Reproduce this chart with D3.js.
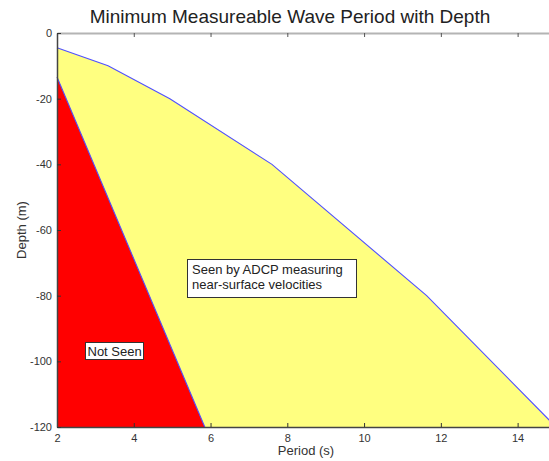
<!DOCTYPE html>
<html>
<head>
<meta charset="utf-8">
<script src="https://cdn.jsdelivr.net/npm/d3@7"></script>
<style>
  html, body { margin: 0; padding: 0; background: #fff; }
  svg { display: block; font-family: "Liberation Sans", Arial, sans-serif; }
</style>
</head>
<body>
<svg id="chart" width="549" height="461"></svg>
<script>
// Upper limit of the measurable region: minimum wave period (s) at each depth (m)
const limitPeriod = [2, 3.33, 4.94, 7.6, 11.63, 15];
const limitDepth  = [-4.5, -10, -20, -40, -80, -120];

// Edge of the region the ADCP cannot see
const unseenPeriod = [2, 5.85];
const unseenDepth  = [-13.4, -120];

const xTicks = [2, 4, 6, 8, 10, 12, 14];
const yTicks = [0, -20, -40, -60, -80, -100, -120];

const title = "Minimum Measureable Wave Period with Depth";
const xLabel = "Period (s)";
const yLabel = "Depth (m)";
const seenLabel = ["Seen by ADCP measuring", "near-surface velocities"];
const unseenLabel = "Not Seen";

const svg = d3.select("#chart");
const plotLeft = 57, plotRight = 556, plotTop = 33, plotBottom = 427;

const x = d3.scaleLinear().domain([2, 15]).range([plotLeft, plotRight]);
const y = d3.scaleLinear().domain([-120, 0]).range([plotBottom, plotTop]);

const plot = svg.append("g");
const line = d3.line().x(d => x(d[0])).y(d => y(d[1]));

// Yellow: area between the period limit curve and the bottom of the plot
const limitPts = limitPeriod.map((p, i) => [p, limitDepth[i]]);
const seenPoly = [...limitPts, [15, -120], [2, -120]];
plot.append("path").attr("d", line(seenPoly) + "Z").attr("fill", "#ffff80");

// Red: the unseen wedge
const unseenPts = unseenPeriod.map((p, i) => [p, unseenDepth[i]]);
const unseenPoly = [...unseenPts, [2, -120]];
plot.append("path").attr("d", line(unseenPoly) + "Z").attr("fill", "#ff0000");

// Blue boundary lines
plot.append("path").attr("d", line(limitPts))
  .attr("fill", "none").attr("stroke", "#5050ff").attr("stroke-width", 1.1);
plot.append("path").attr("d", line(unseenPts))
  .attr("fill", "none").attr("stroke", "#5050ff").attr("stroke-width", 1.1);

// Axes (ticks drawn inward), labels with a plain hyphen for negatives
const tickLen = 4;
const plain = d => String(d);
const xBottom = svg.append("g").attr("transform", `translate(0,${plotBottom})`)
  .call(d3.axisBottom(x).tickValues(xTicks).tickFormat(plain).tickSizeInner(-tickLen).tickSizeOuter(0).tickPadding(7));
const xTop = svg.append("g").attr("transform", `translate(0,${plotTop})`)
  .call(d3.axisTop(x).tickValues(xTicks).tickSizeInner(-tickLen).tickSizeOuter(0).tickFormat(""));
const yLeft = svg.append("g").attr("transform", `translate(${plotLeft},0)`)
  .call(d3.axisLeft(y).tickValues(yTicks).tickFormat(plain).tickSizeInner(-tickLen).tickSizeOuter(0).tickPadding(5));

[xBottom, xTop, yLeft].forEach(g => {
  g.selectAll("text").attr("font-size", 11).attr("fill", "#333").attr("font-family", "Liberation Sans, Arial, sans-serif");
  g.selectAll(".tick line").attr("stroke", "#333");
});
xBottom.select(".domain").attr("stroke", "#444").attr("stroke-width", 1.5);
xTop.select(".domain").attr("stroke", "#b4b4b4").attr("stroke-width", 2);
xTop.selectAll(".tick line").attr("stroke", "#555");
yLeft.select(".domain").attr("stroke", "#444").attr("stroke-width", 1.5);

// Titles
svg.append("text").attr("x", 290).attr("y", 23).attr("text-anchor", "middle")
  .attr("font-size", 19).attr("fill", "#222").text(title);
svg.append("text").attr("x", 306).attr("y", 455).attr("text-anchor", "middle")
  .attr("font-size", 13).attr("fill", "#333").text(xLabel);
svg.append("text").attr("transform", `translate(26,${(plotTop + plotBottom) / 2}) rotate(-90)`)
  .attr("text-anchor", "middle").attr("font-size", 13).attr("fill", "#333").text(yLabel);

// Annotation boxes
function box(x0, y0, w, h, lines, tx, ty, lh) {
  svg.append("rect").attr("x", x0 + 0.5).attr("y", y0 + 0.5).attr("width", w).attr("height", h)
    .attr("fill", "#fff").attr("stroke", "#333").attr("stroke-width", 1);
  const t = svg.append("text").attr("font-size", 13).attr("fill", "#222");
  lines.forEach((s, i) => t.append("tspan").attr("x", tx).attr("y", ty + i * lh).text(s));
}
box(187, 259, 169, 38, seenLabel, 192, 274, 14.5);
box(85, 342, 58, 17, [unseenLabel], 87.5, 355.5, 0);
</script>
</body>
</html>
